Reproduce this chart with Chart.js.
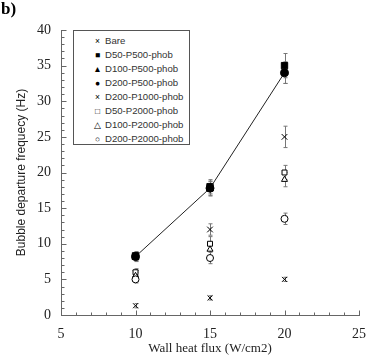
<!DOCTYPE html>
<html>
<head>
<meta charset="utf-8">
<script src="https://cdn.jsdelivr.net/npm/chart.js@4"></script>
<style>
  body { margin: 0; background: #fff; }
  #wrap { position: relative; width: 377px; height: 356px; }
  #legend {
    position: absolute; left: 73px; top: 30px; width: 117px; height: 115px;
    border: 1px solid #555; background: #fff; box-sizing: border-box;
    font-family: "Liberation Sans", Arial, sans-serif; font-size: 9.6px; color: #333;
    padding: 3px 0 0 19px; line-height: 14px; white-space: nowrap;
  }
  #legend span.m { display: inline-block; width: 9px; text-align: center; margin-right: 3px; color: #000; font-size: 8.5px; }
</style>
</head>
<body>
<div id="wrap">
  <canvas id="chart" width="377" height="356"></canvas>
  <div id="legend"></div>
</div>
<script>
document.addEventListener("DOMContentLoaded", function () {

    // x positions (wall heat flux, W/cm2)
    const heatFlux = [10, 15, 20];

    // bubble departure frequency (Hz) per surface
    const bare = [1.3, 2.4, 5];
    const d50p500 = [8.3, 18, 35];
    const d100p500 = [8.1, 17.7, 34];
    const d200p500 = [8.2, 17.8, 34];
    const d200p1000 = [5.8, 12, 25];
    const d50p2000 = [6, 10, 20];
    const d100p2000 = [5.5, 9.2, 19];
    const d200p2000 = [5, 8, 13.5];

    // error bar half-widths
    const errBare = [0.3, 0.3, 0.3];
    const errD50p500 = [0.6, 1, 1.7];
    const errD100p500 = [0.6, 1, 1.5];
    const errD200p500 = [0.6, 1, 1.5];
    const errD200p1000 = [0.5, 0.8, 1.5];
    const errD50p2000 = [0.5, 1, 1];
    const errD100p2000 = [0.5, 1, 1];
    const errD200p2000 = [0.5, 0.8, 0.8];

    const yTicks = [0, 5, 10, 15, 20, 25, 30, 35, 40];
    const xTicks = [5, 10, 15, 20, 25];

    function pts(values, errs) {
        return values.map((v, i) => ({ x: heatFlux[i], y: v, err: errs[i] }));
    }

    function series(label, values, errs, style, filled, radius, line) {
        return {
            label: label,
            data: pts(values, errs),
            pointStyle: style,
            pointRadius: radius,
            pointBorderColor: '#000',
            pointBackgroundColor: filled ? '#000' : '#fff',
            pointBorderWidth: 1,
            borderColor: '#222',
            borderWidth: 1,
            showLine: !!line
        };
    }

    const datasets = [
        series('D200-P2000-phob', d200p2000, errD200p2000, 'circle', false, 3.5),
        series('D100-P2000-phob', d100p2000, errD100p2000, 'triangle', false, 3.5),
        series('D50-P2000-phob', d50p2000, errD50p2000, 'rect', false, 3.5),
        series('D200-P1000-phob', d200p1000, errD200p1000, 'crossRot', false, 4),
        series('Bare', bare, errBare, 'crossRot', false, 3.5),
        series('D200-P500-phob', d200p500, errD200p500, 'circle', true, 4, true),
        series('D100-P500-phob', d100p500, errD100p500, 'triangle', true, 4),
        series('D50-P500-phob', d50p500, errD50p500, 'rect', true, 4.5)
    ];

    // error bars + minor inward ticks + panel tag
    const extras = {
        id: 'extras',
        beforeDatasetsDraw(chart) {
            const ctx = chart.ctx;
            const xs = chart.scales.x, ys = chart.scales.y;
            ctx.save();
            ctx.strokeStyle = '#777';
            ctx.lineWidth = 1;
            chart.data.datasets.forEach(ds => {
                ds.data.forEach(p => {
                    const px = Math.round(xs.getPixelForValue(p.x)) + 0.5;
                    const y1 = ys.getPixelForValue(p.y - p.err);
                    const y2 = ys.getPixelForValue(p.y + p.err);
                    ctx.beginPath();
                    ctx.moveTo(px, y1); ctx.lineTo(px, y2);
                    ctx.moveTo(px - 2, y1); ctx.lineTo(px + 2, y1);
                    ctx.moveTo(px - 2, y2); ctx.lineTo(px + 2, y2);
                    ctx.stroke();
                });
            });
            // minor ticks
            ctx.strokeStyle = '#666';
            const left = Math.round(xs.left) + 0.5, bottom = Math.round(ys.bottom) + 0.5;
            for (let v = ys.min; v <= ys.max; v++) {
                const py = Math.round(ys.getPixelForValue(v)) + 0.5;
                ctx.beginPath();
                ctx.moveTo(left, py); ctx.lineTo(left + (v % 5 === 0 ? 5 : 3), py);
                ctx.stroke();
            }
            for (let v = xs.min; v <= xs.max; v++) {
                const px = Math.round(xs.getPixelForValue(v)) + 0.5;
                ctx.beginPath();
                ctx.moveTo(px, bottom); ctx.lineTo(px, bottom - (v % 5 === 0 ? 5 : 3));
                ctx.stroke();
            }
            ctx.fillStyle = '#000';
            ctx.font = 'bold 17px "Liberation Serif", serif';
            ctx.textBaseline = 'top';
            ctx.fillText('b)', 1, 1);
            ctx.restore();
        }
    };

    new Chart(document.getElementById('chart').getContext('2d'), {
        type: 'scatter',
        data: { datasets: datasets },
        options: {
            responsive: false,
            animation: false,
            layout: { padding: { top: 30, right: 15, left: 14, bottom: 0 } },
            plugins: {
                legend: { display: false },
                tooltip: { enabled: false }
            },
            scales: {
                x: {
                    type: 'linear',
                    min: 5, max: 25,
                    afterBuildTicks: s => { s.ticks = xTicks.map(v => ({ value: v })); },
                    afterFit: s => { s.height = 41; },
                    grid: { display: false, drawTicks: false },
                    border: { color: '#666', width: 1 },
                    ticks: { color: '#222', padding: 11, font: { family: '"Liberation Serif", serif', size: 14 } },
                    title: { display: true, text: 'Wall heat flux (W/cm2)', color: '#222', padding: { top: 0, bottom: 0 },
                             font: { family: '"Liberation Serif", serif', size: 13 } }
                },
                y: {
                    type: 'linear',
                    min: 0, max: 40,
                    afterBuildTicks: s => { s.ticks = yTicks.map(v => ({ value: v })); },
                    afterFit: s => { s.width = 47; },
                    grid: { display: false, drawTicks: false },
                    border: { color: '#666', width: 1 },
                    ticks: { color: '#222', padding: 10, font: { family: '"Liberation Serif", serif', size: 14 } },
                    title: { display: true, text: 'Bubble departure frequecy (Hz)', color: '#222', padding: { top: 0, bottom: 4 },
                             font: { family: '"Liberation Sans", Arial, sans-serif', size: 12 } }
                }
            }
        },
        plugins: [extras]
    });

    // legend box drawn as html, same order as the figure
    const legendItems = [
        ['\u00d7', 'Bare'],
        ['\u25a0', 'D50-P500-phob'],
        ['\u25b2', 'D100-P500-phob'],
        ['\u25cf', 'D200-P500-phob'],
        ['\u00d7', 'D200-P1000-phob'],
        ['\u25a1', 'D50-P2000-phob'],
        ['\u25b3', 'D100-P2000-phob'],
        ['\u25cb', 'D200-P2000-phob']
    ];
    document.getElementById('legend').innerHTML = legendItems
        .map(it => '<div><span class="m">' + it[0] + '</span>' + it[1] + '</div>').join('');
});
</script>
</body>
</html>
